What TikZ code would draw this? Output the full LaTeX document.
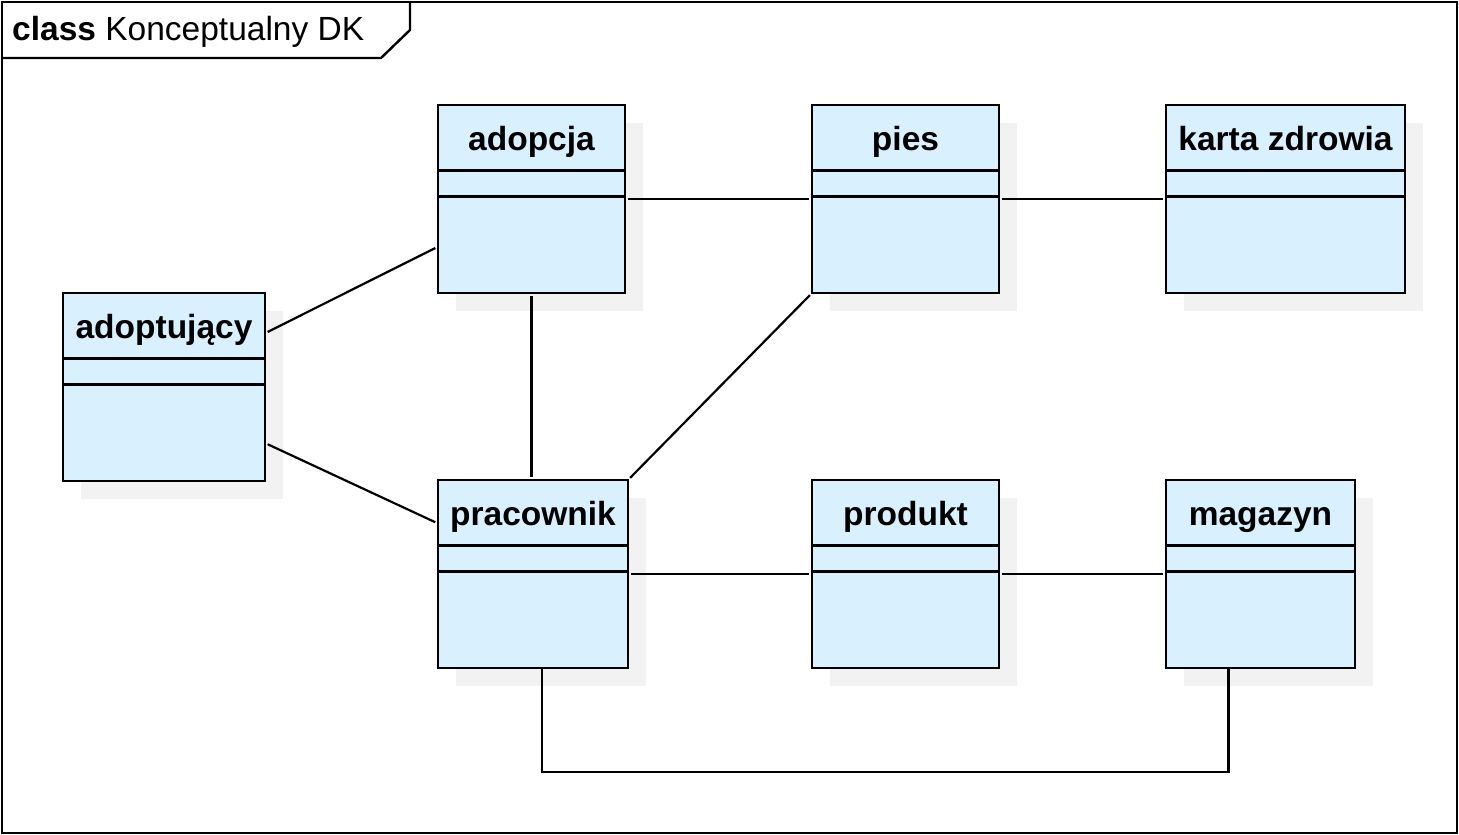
\documentclass[tikz,border=0pt]{standalone}
\usepackage{fontspec}
\setmainfont{Liberation Sans}
\usetikzlibrary{calc,shadows}
\definecolor{klasafill}{RGB}{217,240,255}
\definecolor{cien}{RGB}{242,242,242}
\newcommand{\duzy}{\fontsize{33.5pt}{40pt}\selectfont}
\tikzset{
  klasa/.style={draw, line width=2.6pt, fill=klasafill, inner sep=0pt, outer sep=0pt,
    minimum height=188pt, anchor=north west,
    drop shadow={shadow xshift=18pt, shadow yshift=-18pt, fill=cien, opacity=1},
    label={[nazwa]north:#1}},
  nazwa/.style={font=\duzy\bfseries, anchor=base, label distance=-45pt},
  przegroda/.style={line width=2.4pt},
  asoc/.style={line width=2.2pt, shorten <=3pt, shorten >=3pt},
  ramka/.style={line width=2.4pt},
  every node/.style={font=\duzy}
}

\begin{document}
\begin{tikzpicture}[x=1pt,y=-1pt]
\useasboundingbox (0,0) rectangle (1459,835);
% frame of the diagram
\draw[ramka] (2,2) rectangle (1457,833);
\draw[ramka] (2,58) -- (381,58) -- (410,30) -- (410,2);
\node[anchor=base west, inner sep=0pt] (tytul) at (12,40) {\textbf{class} Konceptualny DK};
% classes
\node[klasa=adopcja, minimum width=187pt] (adopcja) at (438,105) {};
\node[klasa=pies, minimum width=187pt] (pies) at (812,105) {};
\node[klasa=karta zdrowia, minimum width=239pt] (karta) at (1166,105) {};
\node[klasa=adoptujący, minimum width=202pt] (adoptujacy) at (63,293) {};
\node[klasa=pracownik, minimum width=190pt] (pracownik) at (438,480) {};
\node[klasa=produkt, minimum width=187pt] (produkt) at (812,480) {};
\node[klasa=magazyn, minimum width=189pt] (magazyn) at (1166,480) {};
% compartments
\foreach \k in {adopcja,pies,karta,adoptujacy,pracownik,produkt,magazyn} {
  \draw[przegroda] ($(\k.north west)+(0,65.5)$) -- ($(\k.north east)+(0,65.5)$);
  \draw[przegroda] ($(\k.north west)+(0,91.5)$) -- ($(\k.north east)+(0,91.5)$);
}
% associations
\draw[asoc] (adoptujacy.28.6) -- (adopcja.207.6);
\draw[asoc] (adoptujacy.331.6) -- (pracownik.152);
\draw[asoc] (adopcja.east) -- (pies.west);
\draw[asoc] (pies.east) -- (karta.west);
\draw[asoc] (adopcja.south) -- (adopcja.south |- pracownik.north);
\draw[asoc] (pies.south west) -- (pracownik.north east);
\draw[asoc] (pracownik.east) -- (produkt.west);
\draw[asoc] (produkt.east) -- (magazyn.west);
\draw[line width=2.2pt] ($(pracownik.south)+(9,0)$) -- ++(0,104) -| ($(magazyn.south)+(-32,0)$);
\end{tikzpicture}
\end{document}
